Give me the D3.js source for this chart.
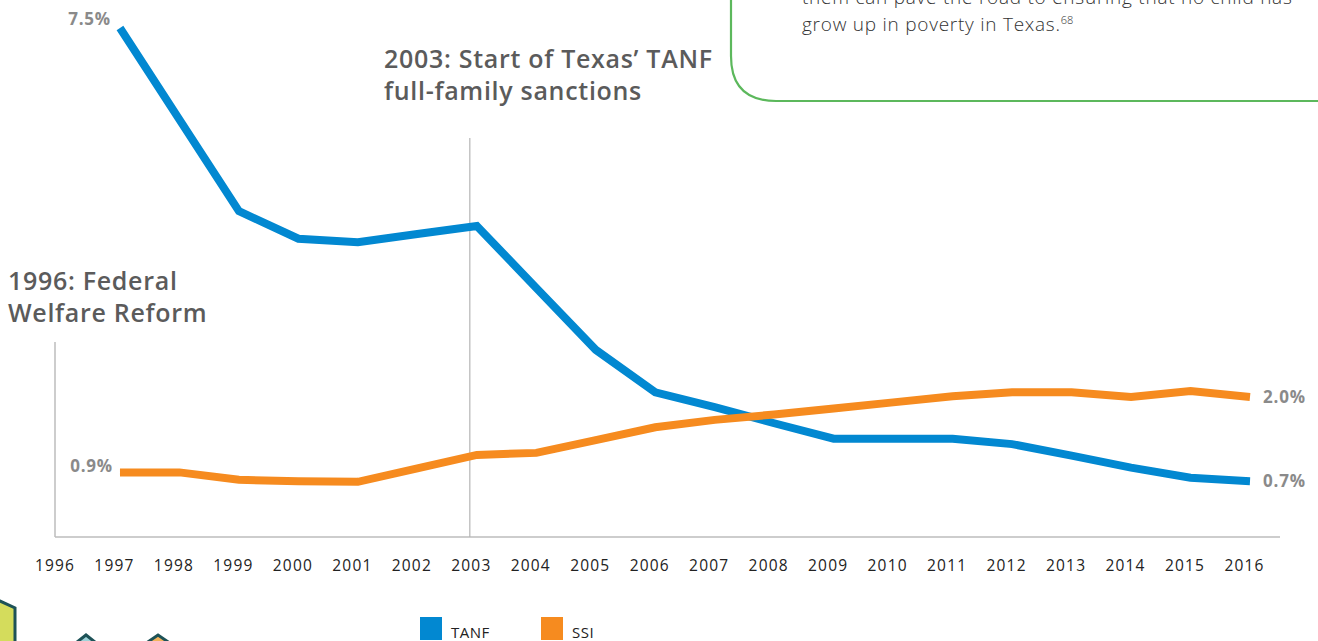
<!DOCTYPE html>
<html><head><meta charset="utf-8">
<script src="https://cdn.jsdelivr.net/npm/d3@7"></script>
<style>
html,body{margin:0;padding:0;background:#fff;}
svg{display:block;font-family:"Open Sans",Lato,sans-serif;}
</style></head>
<body>
<svg id="chart" width="1318" height="641"></svg>
<script>
const years = [1997,1998,1999,2000,2001,2002,2003,2004,2005,2006,2007,2008,2009,2010,2011,2012,2013,2014,2015,2016];
const tanf = [7.5,6.14,4.78,4.37,4.32,4.44,4.56,3.64,2.72,2.09,1.87,1.63,1.40,1.40,1.40,1.32,1.15,0.97,0.82,0.77];
const ssi  = [0.9,0.9,0.79,0.77,0.76,0.96,1.16,1.19,1.38,1.57,1.68,1.76,1.85,1.94,2.03,2.09,2.09,2.02,2.11,2.02];
const tickYears = d3.range(1996, 2017);
const seriesNames = ["TANF","SSI"];
const seriesColors = ["#0288d1","#f68b1f"];
const startLabels = ["7.5%","0.9%"];
const endLabels = ["0.7%","2.0%"];
const events = [{year:1996, lines:["1996: Federal","Welfare Reform"]},{year:2003, lines:["2003: Start of Texas\u2019 TANF","full-family sanctions"]}];
const boxLines = ["them can pave the road to ensuring that no child has","grow up in poverty in Texas."];

const svg = d3.select("#chart");
const x = d3.scaleLinear().domain([1996,2016]).range([60.5,1250]);
const y = d3.scaleLinear().domain([0,7.5]).range([533,28]);

// green text box (cropped)
svg.append("path")
  .attr("d","M731,-10 L731,56 Q731,101 776,101 L1330,101")
  .attr("fill","none").attr("stroke","#5cb85c").attr("stroke-width",2.2);
const bt = svg.append("g").attr("font-weight",300).attr("font-size",19).attr("letter-spacing",0.75).attr("fill","#333");
bt.append("text").attr("x",802).attr("y",4).text(boxLines[0]);
const t2 = bt.append("text").attr("x",802).attr("y",31).text(boxLines[1]);
t2.append("tspan").attr("font-size",11).attr("dy",-7).attr("letter-spacing",0).text("68");

// axes
const xAxis = d3.axisBottom(x).tickValues(tickYears).tickFormat(d3.format("d")).tickSize(0).tickPadding(23);
const gx = svg.append("g").attr("transform","translate(0,537)").call(xAxis);
gx.select(".domain").remove();
gx.selectAll("text").attr("font-size",15.5).attr("fill","#222").attr("dx",-6).attr("letter-spacing",1.2).attr("font-family","'Open Sans',sans-serif");
svg.append("line").attr("x1",55).attr("x2",1280).attr("y1",537).attr("y2",537).attr("stroke","#bdbdbd").attr("stroke-width",1.5);
svg.append("line").attr("x1",55).attr("x2",55).attr("y1",342).attr("y2",537).attr("stroke","#bdbdbd").attr("stroke-width",1.5);

// event line 2003
svg.append("line").attr("x1",x(2003)-7).attr("x2",x(2003)-7).attr("y1",138).attr("y2",537).attr("stroke","#b5b5b5").attr("stroke-width",1.2);

// event labels
const evPos = [{x:8,y:290},{x:384,y:68}];
events.forEach((e,i)=>{
  const t = svg.append("text").attr("x",evPos[i].x).attr("y",evPos[i].y)
    .attr("font-size",25).attr("font-weight",600).attr("fill","#5b5b5b").attr("letter-spacing",0.7);
  e.lines.forEach((l,j)=>t.append("tspan").attr("x",evPos[i].x).attr("dy",j?32:0).text(l));
});

// lines
const line = d3.line().x((d,i)=>x(years[i])).y(d=>y(d));
[tanf,ssi].forEach((s,i)=>{
  svg.append("path").datum(s).attr("d",line).attr("fill","none")
    .attr("stroke",seriesColors[i]).attr("stroke-width",8).attr("stroke-linejoin","miter");
});

// value labels
const lab = svg.append("g").attr("font-size",17).attr("font-weight",700).attr("fill","#8a8a8a").attr("letter-spacing",0.8);
lab.append("text").attr("x",x(1997)-9).attr("y",y(tanf[0])-3).attr("text-anchor","end").text(startLabels[0]);
lab.append("text").attr("x",x(1997)-7).attr("y",y(ssi[0])).attr("text-anchor","end").text(startLabels[1]);
lab.append("text").attr("x",x(2016)+13).attr("y",y(tanf[tanf.length-1])).attr("dy","0.35em").text(endLabels[0]);
lab.append("text").attr("x",x(2016)+13).attr("y",y(ssi[ssi.length-1])).attr("dy","0.35em").text(endLabels[1]);

// legend
const legX = [420,541];
seriesNames.forEach((n,i)=>{
  svg.append("rect").attr("x",legX[i]).attr("y",617).attr("width",22).attr("height",23).attr("fill",seriesColors[i]);
  svg.append("text").attr("x",legX[i]+31).attr("y",638).attr("font-size",15).attr("letter-spacing",0.5).attr("fill","#222").text(n);
});

// decorative icons bottom-left (cropped)
svg.append("path").attr("d","M-10,600 L0,601 L15,608 L15,650 L-10,650 Z").attr("fill","#d4dc5c").attr("stroke","#1d5257").attr("stroke-width",3);
svg.append("path").attr("d","M72,646 L86,635 L100,646").attr("fill","#9fd3d9").attr("stroke","#1d5257").attr("stroke-width",3);
svg.append("path").attr("d","M142,646 L158,635 L174,646").attr("fill","#f3b35b").attr("stroke","#1d5257").attr("stroke-width",3);
</script>
</body></html>
